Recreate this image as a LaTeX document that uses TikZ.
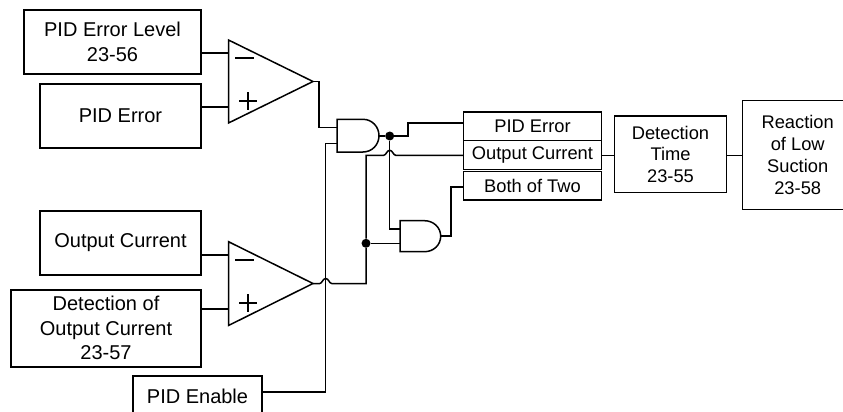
\documentclass[tikz,border=0pt]{standalone}
\usepackage{fontspec}
\setmainfont{Liberation Sans}
\newcommand{\bumpH}{.. controls +(2.5,0) and +(-3,0) .. ++(6,-5) .. controls +(3,0) and +(-2.5,0) .. ++(6,5)}
\tikzset{
  wire/.style={draw=black,line width=1.5pt,line join=miter},
  blockbox/.style={draw=black,line width=1.5pt,fill=white,inner sep=0pt,outer sep=0pt,align=center,
    font=\fontsize{20}{24.5}\selectfont},
  sidebox/.style={blockbox,font=\fontsize{18.3}{21.8}\selectfont},
  gate/.style={draw=black,line width=1.5pt,fill=white,line join=miter},
  sign/.style={draw=black,line width=1.3pt},
  junction/.style={circle,fill=black,inner sep=0pt,minimum size=9pt},
}
\begin{document}
\begin{tikzpicture}[x=1pt,y=-1pt]
\useasboundingbox[clip] (0,0) rectangle (843,412);
% boxes
\node[blockbox,minimum width=177pt,minimum height=64pt] (pel) at (112.5,42) {PID Error Level\\23-56};
\node[blockbox,minimum width=161pt,minimum height=64pt] (pe) at (120.5,116) {PID Error};
\node[blockbox,minimum width=161pt,minimum height=64pt] (oc) at (120.5,243) {Output Current};
\node[blockbox,minimum width=190pt,minimum height=77pt] (doc) at (106,328.3) {Detection of\\Output Current\\23-57};
\node[blockbox,minimum width=129pt,minimum height=40pt] (en) at (197.5,396) {PID Enable};
\node[sidebox,minimum width=138.4pt,minimum height=28.7pt] (s1) at (532.5,126.3) {PID Error};
\node[sidebox,minimum width=138.4pt,minimum height=29pt] (s2) at (532.5,155.2) {Output Current};
\node[sidebox,minimum width=138.4pt,minimum height=28.3pt] (s3) at (532.5,185.8) {Both of Two};
\node[sidebox,minimum width=112.4pt,minimum height=76.7pt] (dt) at (670.5,154.3) {Detection\\Time\\23-55};
\node[sidebox,minimum width=110pt,minimum height=108.6pt] (rl) at (797.7,155) {Reaction\\of Low\\Suction\\23-58};
% comparators
\draw[gate] (228.5,40) -- (313,81.5) -- (228.5,123) -- cycle;
\draw[gate] (228.5,241.7) -- (313,283.5) -- (228.5,325.5) -- cycle;
\draw[sign] (235,58) -- (254,58) (239,101) -- (257,101) (248,92) -- (248,110);
\draw[sign] (235,260) -- (254,260) (239,303) -- (257,303) (248,294) -- (248,312);
\coordinate (c1m) at (228.5,53);
\coordinate (c1p) at (228.5,107);
\coordinate (c1o) at (313,81.5);
\coordinate (c2m) at (228.5,255);
\coordinate (c2p) at (228.5,309);
\coordinate (c2o) at (313,283.5);
% AND gates
\draw[gate] (337,119.3) -- (363,119.3) .. controls (372,119.3) and (379,126.7) .. (379,135.7) .. controls (379,144.7) and (372,152) .. (363,152) -- (337,152) -- cycle;
\draw[gate] (400,220.7) -- (424.5,220.7) .. controls (433.5,220.7) and (440.7,227.5) .. (440.7,236.2) .. controls (440.7,245) and (433.5,251.7) .. (424.5,251.7) -- (400,251.7) -- cycle;
\coordinate (a1t) at (337,127.7);
\coordinate (a1b) at (337,143.7);
\coordinate (a1o) at (379,136);
\coordinate (a2t) at (400,229);
\coordinate (a2b) at (400,243.3);
\coordinate (a2o) at (440.7,236.2);
\node[junction] (j1) at (389.7,136) {};
\node[junction] (j2) at (366,243.3) {};
% wires
\draw[wire] (pel.east |- c1m) -- (c1m);
\draw[wire] (pe.east |- c1p) -- (c1p);
\draw[wire] (oc.east |- c2m) -- (c2m);
\draw[wire] (doc.east |- c2p) -- (c2p);
\draw[wire] (c1o) -- (319,81.5) -- (319,127.7) -- (a1t);
\draw[wire] (a1o) -- (j1);
\draw[wire] (j1) -- (408,136) -- (408,123) -- (s1.west |- 0,123);
\draw[wire] (j1) -- (j1 |- a2t) -- (a2t);
\draw[wire] (en.east |- 0,392) -- (325.7,392) -- (325.7,143.7) -- (a1b);
\draw[wire] (c2o) -- (319.7,283.5) \bumpH -- (366,283.5) -- (j2);
\draw[wire] (j2) -- (a2b);
\draw[wire] (j2) -- (366,155.3) -- (383.7,155.3) \bumpH -- (s2.west |- 0,155.3);
\draw[wire] (a2o) -- (451,236.2) -- (451,187) -- (s3.west |- 0,187);
\draw[wire] (s2.east |- 0,155.3) -- (dt.west |- 0,155.3);
\draw[wire] (dt.east |- 0,155.3) -- (rl.west |- 0,155.3);
\end{tikzpicture}
\end{document}
